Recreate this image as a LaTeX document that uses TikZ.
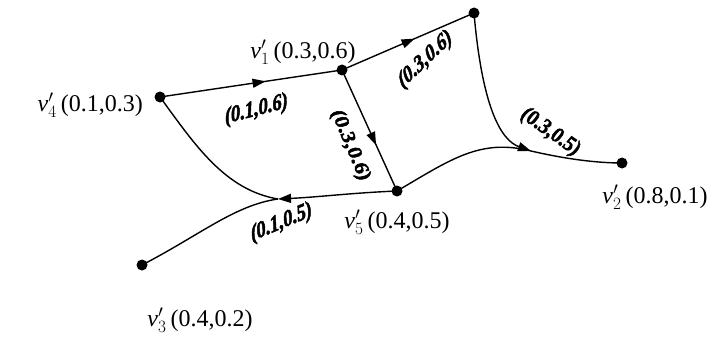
\documentclass[tikz,border=0pt]{standalone}
\usepackage{fontspec}
\setmainfont{Liberation Serif}
\newfontface\wfont[FakeBold=2.5,FakeSlant=0.1]{Liberation Serif Bold Italic}
\usetikzlibrary{arrows.meta,decorations.markings}
\begin{document}
\begin{tikzpicture}[x=1pt,y=-1pt,
  dot/.style={circle,fill=black,inner sep=0pt,minimum size=11pt},
  edge/.style={line width=1.4pt},
  tip/.style={-{Triangle[length=13pt,width=9pt]}},
  midarrow/.style={postaction={decorate},decoration={markings,mark=at position #1 with {\arrow{Triangle[length=13pt,width=9pt]}}}},
  vlabel/.style={font=\fontsize{24}{27}\selectfont,inner sep=0pt},
  wlabel/.style={font=\fontsize{23}{26}\selectfont\wfont,inner sep=0pt,xscale=0.82}]
\useasboundingbox (0,0) rectangle (712,337);
\node[dot] (v4) at (160,97) {};
\node[dot] (v1) at (342,70) {};
\node[dot] (t) at (474,13) {};
\node[dot] (v5) at (397,191) {};
\node[dot] (v2) at (622,163) {};
\node[dot] (v3) at (142,265) {};
\coordinate (j1) at (278,199);
\coordinate (j2) at (531,151);
\draw[edge,midarrow=0.58] (v4.center) -- (v1.center);
\draw[edge,midarrow=0.55] (v1.center) -- (t.center);
\draw[edge,midarrow=0.62] (v1.center) -- (v5.center);
\draw[edge] (v5.center) .. controls (450,160) and (480,138) .. (j2);
\draw[edge,tip] (t.center) .. controls (482,105) and (500,140) .. (j2);
\draw[edge] (j2) .. controls (570,160) and (600,163) .. (v2.center);
\draw[edge,tip] (v5.center) .. controls (350,193) and (320,197) .. (j1);
\draw[edge] (v4.center) .. controls (195,145) and (225,190) .. (j1);
\draw[edge] (v3.center) .. controls (200,235) and (235,205) .. (j1);
\node[wlabel,rotate=12] (l1) at (256,110) {(0.1,0.6)};
\node[wlabel,rotate=38] (l2) at (425,60) {(0.3,0.6)};
\node[wlabel,rotate=-63] (l3) at (350,145) {(0.3,0.6)};
\node[wlabel,rotate=-30] (l4) at (550,132) {(0.3,0.5)};
\node[wlabel,rotate=19] (l5) at (281,223) {(0.1,0.5)};
\node[vlabel,anchor=east] (n4) at (143,105) {$\mathit{v}_4'$\,(0.1,0.3)};
\node[vlabel] (n1) at (303,52) {$\mathit{v}_1'$\,(0.3,0.6)};
\node[vlabel] (n5) at (397,222) {$\mathit{v}_5'$\,(0.4,0.5)};
\node[vlabel] (n2) at (655,197) {$\mathit{v}_2'$\,(0.8,0.1)};
\node[vlabel] (n3) at (200,320) {$\mathit{v}_3'$\,(0.4,0.2)};
\end{tikzpicture}
\end{document}
